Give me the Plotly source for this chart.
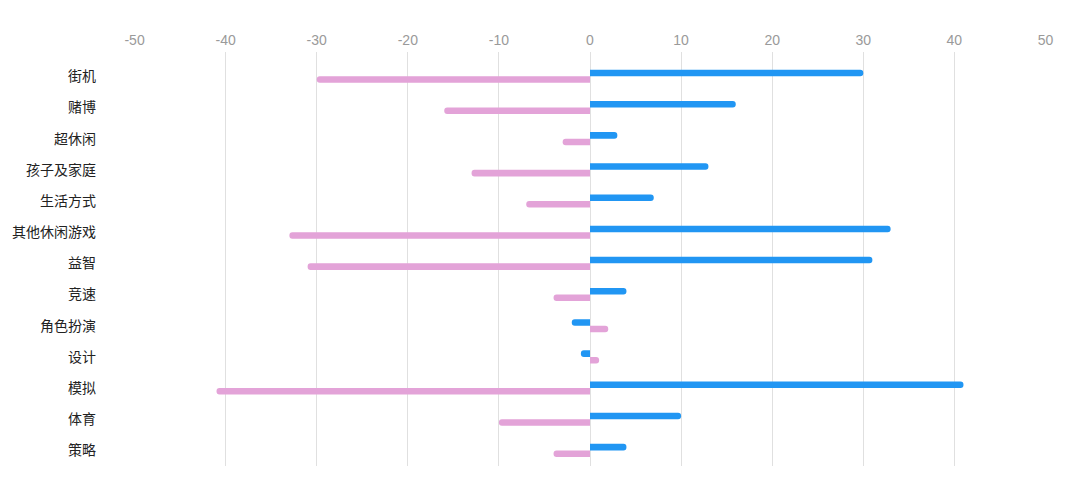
import plotly.graph_objects as go

categories = ["街机", "赌博", "超休闲", "孩子及家庭", "生活方式", "其他休闲游戏", "益智",
              "竞速", "角色扮演", "设计", "模拟", "体育", "策略"]
blue_values = [30, 16, 3, 13, 7, 33, 31, 4, -2, -1, 41, 10, 4]
pink_values = [-30, -16, -3, -13, -7, -33, -31, -4, 2, 1, -41, -10, -4]
x_ticks = [-50, -40, -30, -20, -10, 0, 10, 20, 30, 40, 50]
x_tick_labels = ["-50", "-40", "-30", "-20", "-10", "0", "10", "20", "30", "40", "50"]

fig = go.Figure()
fig.add_trace(go.Bar(y=categories, x=blue_values, orientation="h",
                     marker=dict(color="#2196F3", line=dict(width=0)), name="A"))
fig.add_trace(go.Bar(y=categories, x=pink_values, orientation="h",
                     marker=dict(color="#E3A3D8", line=dict(width=0)), name="B"))

fig.update_layout(
    width=1064, height=482,
    margin=dict(l=126, r=26, t=44, b=24),
    paper_bgcolor="white", plot_bgcolor="white",
    barmode="group", bargap=0.58, bargroupgap=0,
    barcornerradius="50%",
    showlegend=False,
    font=dict(family="Noto Sans CJK SC, Noto Sans, sans-serif"),
    xaxis=dict(side="top", range=[-50.06, 50.06], tickvals=x_ticks, ticktext=x_tick_labels,
               showgrid=True, gridcolor="#e0e0e0", gridwidth=1,
               zeroline=True, zerolinecolor="#e0e0e0", zerolinewidth=1,
               showline=False, ticks="", ticklabelstandoff=3, automargin=False,
               tickfont=dict(family="Liberation Sans, Arial, sans-serif", size=14, color="#9a9a9a")),
    yaxis=dict(categoryorder="array", categoryarray=categories,
               range=[12.5, -0.78], showgrid=False, zeroline=False, showline=False,
               ticks="", ticklabelstandoff=37, automargin=False,
               tickfont=dict(size=14, color="#222222")),
)

fig.write_html("out.html")
